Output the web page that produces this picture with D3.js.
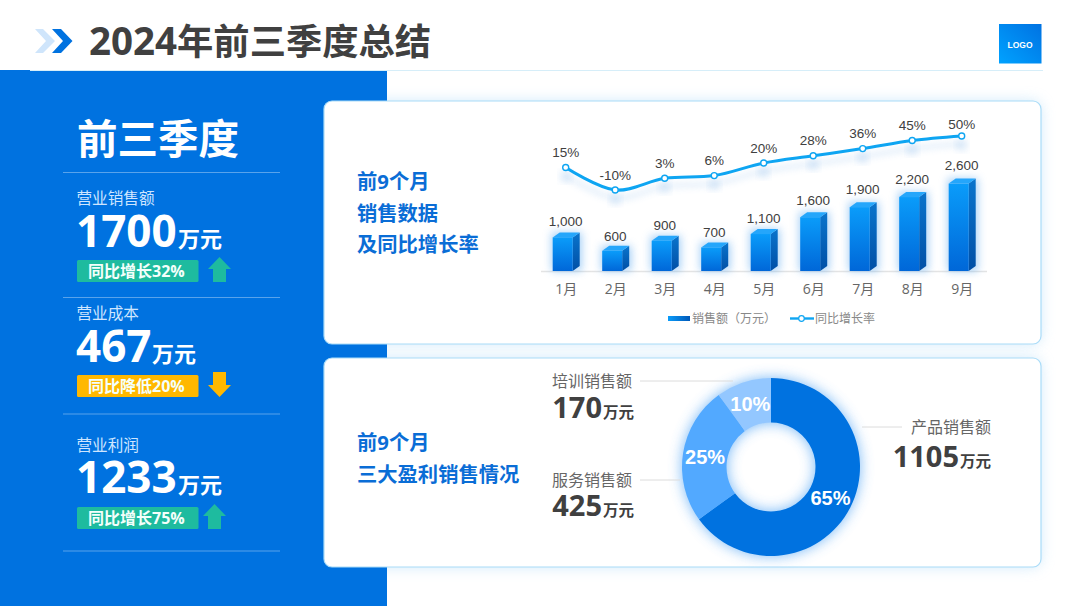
<!DOCTYPE html>
<html>
<head>
<meta charset="utf-8">
<script src="https://cdnjs.cloudflare.com/ajax/libs/d3/7.8.5/d3.min.js"></script>
<style>
html, body { margin: 0; padding: 0; background: #fff; }
svg { display: block; }
text { font-family: "Open Sans", "Noto Sans CJK SC", sans-serif; }
.num { font-family: "Liberation Sans", Arial, sans-serif; }
.tick text { font-family: "Open Sans", "Noto Sans CJK SC", sans-serif; }
</style>
</head>
<body>
<div id="chart"></div>
<script>
// chart values
var months = ["1月", "2月", "3月", "4月", "5月", "6月", "7月", "8月", "9月"];
var sales = [1000, 600, 900, 700, 1100, 1600, 1900, 2200, 2600];
var growth = [15, -10, 3, 6, 20, 28, 36, 45, 50];
var legendNames = ["销售额（万元）", "同比增长率"];

var kpiNames = ["营业销售额", "营业成本", "营业利润"];
var kpiValues = [1700, 467, 1233];
var kpiNotes = ["同比增长32%", "同比降低20%", "同比增长75%"];
var kpiDirs = ["up", "down", "up"];

var shareNames = ["产品销售额", "服务销售额", "培训销售额"];
var shareValues = [1105, 425, 170];
var sharePct = [65, 25, 10];

var blue = "#0072e0";

var svg = d3.select("#chart").append("svg")
    .attr("width", 1080)
    .attr("height", 606);

var defs = svg.append("defs");

function vGrad(id, c1, c2, horizontal) {
    var g = defs.append("linearGradient").attr("id", id)
        .attr("x1", 0).attr("y1", 0)
        .attr("x2", horizontal ? 1 : 0).attr("y2", horizontal ? 0 : 1);
    g.append("stop").attr("offset", 0).attr("stop-color", c1);
    g.append("stop").attr("offset", 1).attr("stop-color", c2);
}
vGrad("barFront", "#0a9cfa", "#0067d8");
vGrad("barSide", "#0a74cc", "#004fa6");
vGrad("legendBar", "#0a9cfa", "#0058b8", true);
vGrad("logoGrad", "#0072e2", "#00a2ff");
defs.select("#logoGrad").attr("x1", 1).attr("y1", 0).attr("x2", 0).attr("y2", 1);

function blurFilter(id, sd) {
    var f = defs.append("filter").attr("id", id)
        .attr("x", "-40%").attr("y", "-40%").attr("width", "180%").attr("height", "180%");
    f.append("feGaussianBlur").attr("stdDeviation", sd);
}
blurFilter("cardGlow", 7);
blurFilter("barGlow", 4);
blurFilter("donutGlow", 7);
defs.append("filter").attr("id", "lineGlow")
    .attr("filterUnits", "userSpaceOnUse")
    .attr("x", 530).attr("y", 110).attr("width", 470).attr("height", 110)
    .append("feGaussianBlur").attr("stdDeviation", 3.5);

// card glow goes under the blue panel
var cards = [{y: 101, h: 243}, {y: 358, h: 209}];
svg.selectAll(".card-glow").data(cards).enter().append("rect")
    .attr("class", "card-glow")
    .attr("x", 324).attr("y", function(d) { return d.y; })
    .attr("width", 717).attr("height", function(d) { return d.h; })
    .attr("rx", 9)
    .attr("fill", "#a8d8f8")
    .attr("opacity", 0.55)
    .attr("filter", "url(#cardGlow)");

svg.append("rect").attr("x", 0).attr("y", 70).attr("width", 387).attr("height", 536).attr("fill", blue);

svg.selectAll(".card").data(cards).enter().append("rect")
    .attr("class", "card")
    .attr("x", 324).attr("y", function(d) { return d.y; })
    .attr("width", 717).attr("height", function(d) { return d.h; })
    .attr("rx", 8)
    .attr("fill", "#fff")
    .attr("stroke", "#aadcf8")
    .attr("stroke-width", 1.2);

// header
svg.append("line").attr("x1", 30).attr("x2", 1043).attr("y1", 70.5).attr("y2", 70.5)
    .attr("stroke", "#d6eef9").attr("stroke-width", 1);
svg.append("path").attr("d", "M35,29H43L55,41L43,53H35L46,41Z").attr("fill", "#cfe5fb");
svg.append("path").attr("d", "M52,29H61L72.5,41L61,53H52L63,41Z").attr("fill", blue);
var title = svg.append("text").attr("x", 89).attr("y", 55)
    .attr("font-weight", 700).attr("fill", "#404040");
title.append("tspan").attr("font-size", 38.5).text("2024");
title.append("tspan").attr("font-size", 36.3).text("年前三季度总结");
svg.append("rect").attr("x", 999).attr("y", 24).attr("width", 42.5).attr("height", 39.5).attr("fill", "url(#logoGrad)");
svg.append("text").attr("class", "num").attr("x", 1020).attr("y", 47.5)
    .attr("text-anchor", "middle").attr("font-size", 8.5).attr("font-weight", 700).attr("fill", "#fff")
    .text("LOGO");

// left panel
var left = svg.append("g");
left.append("text").attr("x", 77).attr("y", 154)
    .attr("font-size", 40.5).attr("font-weight", 700).attr("fill", "#fff").text("前三季度");

[172.5, 297.5, 414, 551].forEach(function(y) {
    left.append("line").attr("x1", 63).attr("x2", 280).attr("y1", y).attr("y2", y)
        .attr("stroke", "#fff").attr("stroke-opacity", 0.35);
});

var kpiNameY = [204, 319, 451];
var kpiValueY = [247, 362, 493];
var kpiUnitX = [178, 152, 178];
var kpiBadgeY = [260, 375, 507];
var kpiArrowX = [219.5, 219.5, 214.5];
var kpiColor = {up: "#1ebb9f", down: "#ffb800"};

kpiNames.forEach(function(name, i) {
    var g = left.append("g");
    g.append("text").attr("x", 76.5).attr("y", kpiNameY[i])
        .attr("font-size", 15.6).attr("fill", "#cfe6ff").text(name);
    g.append("text").attr("x", 76).attr("y", kpiValueY[i])
        .attr("font-size", 44).attr("font-weight", 700).attr("fill", "#fff").text(kpiValues[i]);
    g.append("text").attr("x", kpiUnitX[i]).attr("y", kpiValueY[i])
        .attr("font-size", 22).attr("font-weight", 700).attr("fill", "#fff").text("万元");
    var c = kpiColor[kpiDirs[i]];
    g.append("rect").attr("x", 77).attr("y", kpiBadgeY[i]).attr("width", 121.5).attr("height", 22)
        .attr("rx", 1.5).attr("fill", c);
    g.append("text").attr("x", 88).attr("y", kpiBadgeY[i] + 16.5)
        .attr("font-size", 16).attr("font-weight", 700).attr("fill", "#f4fffb").text(kpiNotes[i]);
    // arrow
    var ax = kpiArrowX[i], t = kpiBadgeY[i] - 3;
    var arrow = kpiDirs[i] == "up"
        ? [[ax, t], [ax + 11.5, t + 12], [ax + 6.5, t + 12], [ax + 6.5, t + 25], [ax - 6.5, t + 25], [ax - 6.5, t + 12], [ax - 11.5, t + 12]]
        : [[ax - 6.5, t], [ax + 6.5, t], [ax + 6.5, t + 13], [ax + 11.5, t + 13], [ax, t + 25], [ax - 11.5, t + 13], [ax - 6.5, t + 13]];
    g.append("path").attr("d", d3.line()(arrow) + "Z").attr("fill", c);
});

// card headings
function heading(lines, ys, size) {
    lines.forEach(function(s, i) {
        svg.append("text").attr("x", 357).attr("y", ys[i])
            .attr("font-size", size).attr("font-weight", 700).attr("fill", "#0a6dd6").text(s);
    });
}
heading(["前9个月", "销售数据", "及同比增长率"], [189, 221, 252], 20.3);
heading(["前9个月", "三大盈利销售情况"], [450, 482], 20.3);

// combo chart
var x = d3.scalePoint().domain(months).range([565.7, 961.7]);
var yBar = d3.scaleLinear().domain([0, 2600]).range([271, 183.6]);
var yLine = d3.scaleLinear().domain([-10, 50]).range([190, 136]);

var frontW = 20, depthX = 7, depthY = 5;

var chart = svg.append("g");

chart.append("line").attr("x1", 541).attr("x2", 987).attr("y1", 271.5).attr("y2", 271.5)
    .attr("stroke", "#e4e4e4").attr("stroke-width", 1.5);

var barData = months.map(function(m, i) { return {m: m, v: sales[i]}; });
var lineData = months.map(function(m, i) { return {m: m, v: growth[i]}; });

function barLeft(d) { return x(d.m) - 13; }

function sidePath(d) {
    var l = barLeft(d) + frontW, t = yBar(d.v), b = yBar(0);
    return d3.line()([[l, t], [l + depthX, t - depthY], [l + depthX, b - depthY], [l, b]]) + "Z";
}
function topPath(d) {
    var l = barLeft(d), t = yBar(d.v);
    return d3.line()([[l, t], [l + depthX, t - depthY], [l + frontW + depthX, t - depthY], [l + frontW, t]]) + "Z";
}

chart.selectAll(".bar-glow").data(barData).enter().append("rect")
    .attr("class", "bar-glow")
    .attr("x", function(d) { return barLeft(d) - 1; })
    .attr("y", function(d) { return yBar(d.v) - depthY; })
    .attr("width", frontW + depthX + 3)
    .attr("height", function(d) { return yBar(0) - yBar(d.v) + depthY; })
    .attr("fill", "#5aa8f0")
    .attr("opacity", 0.55)
    .attr("filter", "url(#barGlow)");

chart.selectAll(".bar-side").data(barData).enter().append("path")
    .attr("class", "bar-side").attr("d", sidePath).attr("fill", "url(#barSide)");
chart.selectAll(".bar-top").data(barData).enter().append("path")
    .attr("class", "bar-top").attr("d", topPath).attr("fill", "#25a6fb");
chart.selectAll(".bar-front").data(barData).enter().append("rect")
    .attr("class", "bar-front")
    .attr("x", barLeft)
    .attr("y", function(d) { return yBar(d.v); })
    .attr("width", frontW)
    .attr("height", function(d) { return yBar(0) - yBar(d.v); })
    .attr("fill", "url(#barFront)");

var fmt = d3.format(",");
chart.selectAll(".bar-label").data(barData).enter().append("text")
    .attr("class", "bar-label num")
    .attr("x", function(d) { return x(d.m); })
    .attr("y", function(d) { return yBar(d.v) - 9 - d.v / 520; })
    .attr("text-anchor", "middle")
    .attr("font-size", 13.5)
    .attr("fill", "#404040")
    .text(function(d) { return fmt(d.v); });

var line = d3.line()
    .x(function(d) { return x(d.m); })
    .y(function(d) { return yLine(d.v); })
    .curve(d3.curveCatmullRom.alpha(0.5));

// blurred shadow under the line
chart.append("path").datum(lineData)
    .attr("d", line)
    .attr("transform", "translate(0,8)")
    .attr("fill", "none")
    .attr("stroke", "#9cc4ee")
    .attr("stroke-width", 3)
    .attr("opacity", 0.45)
    .attr("filter", "url(#lineGlow)");
chart.selectAll(".dot-shadow").data(lineData).enter().append("circle")
    .attr("cx", function(d) { return x(d.m); })
    .attr("cy", function(d) { return yLine(d.v) + 9; })
    .attr("r", 4.5)
    .attr("fill", "#9cc4ee")
    .attr("opacity", 0.6)
    .attr("filter", "url(#barGlow)");

chart.append("path").datum(lineData)
    .attr("d", line)
    .attr("fill", "none")
    .attr("stroke", "#0ea5f2")
    .attr("stroke-width", 3);

chart.selectAll(".dot").data(lineData).enter().append("circle")
    .attr("class", "dot")
    .attr("cx", function(d) { return x(d.m); })
    .attr("cy", function(d) { return yLine(d.v); })
    .attr("r", 3)
    .attr("fill", "#fff")
    .attr("stroke", "#0ea5f2")
    .attr("stroke-width", 1.4);

// the last label sits closer to its point in the reference
chart.selectAll(".line-label").data(lineData).enter().append("text")
    .attr("class", "line-label num")
    .attr("x", function(d) { return x(d.m); })
    .attr("y", function(d) { return yLine(d.v) - (d.v == 50 ? 7.5 : 10.5); })
    .attr("text-anchor", "middle")
    .attr("font-size", 13.5)
    .attr("fill", "#404040")
    .text(function(d) { return d.v + "%"; });

var xAxis = d3.axisBottom(x).tickSize(0).tickPadding(0);
var axisG = chart.append("g").attr("transform", "translate(0,284.5)").call(xAxis);
axisG.select(".domain").remove();
axisG.selectAll("text").attr("font-size", 14).attr("fill", "#666");

// legend
chart.append("rect").attr("x", 668).attr("y", 316).attr("width", 22).attr("height", 5).attr("fill", "url(#legendBar)");
chart.append("text").attr("x", 692).attr("y", 323).attr("font-size", 12).attr("fill", "#888").text(legendNames[0]);
chart.append("line").attr("x1", 790).attr("x2", 814).attr("y1", 318.5).attr("y2", 318.5)
    .attr("stroke", "#0ea5f2").attr("stroke-width", 2.4);
chart.append("circle").attr("cx", 801.5).attr("cy", 318.5).attr("r", 2.8)
    .attr("fill", "#fff").attr("stroke", "#0ea5f2").attr("stroke-width", 1.2);
chart.append("text").attr("x", 815).attr("y", 323).attr("font-size", 12).attr("fill", "#888").text(legendNames[1]);

// donut
var cx = 771, cy = 467, rOuter = 89, rInner = 44.5;
var shareColor = d3.scaleOrdinal().domain(shareNames).range([blue, "#52a9ff", "#93c7ff"]);
var pie = d3.pie().sort(null).value(function(d) { return d.v; });
var arc = d3.arc().innerRadius(rInner).outerRadius(rOuter);
var shareData = shareNames.map(function(n, i) { return {n: n, v: shareValues[i], p: sharePct[i]}; });

var donut = svg.append("g").attr("transform", "translate(" + cx + "," + cy + ")");
donut.append("path")
    .attr("d", arc({startAngle: 0, endAngle: 2 * Math.PI}))
    .attr("fill", "#4aa0f5")
    .attr("opacity", 0.75)
    .attr("filter", "url(#donutGlow)");
donut.selectAll(".slice").data(pie(shareData)).enter().append("path")
    .attr("class", "slice")
    .attr("d", arc)
    .attr("fill", function(d) { return shareColor(d.data.n); });
donut.selectAll(".slice-label").data(pie(shareData)).enter().append("text")
    .attr("class", "slice-label num")
    .attr("transform", function(d) { return "translate(" + arc.centroid(d) + ")"; })
    .attr("text-anchor", "middle")
    .attr("dy", "0.36em")
    .attr("font-size", 20)
    .attr("font-weight", 700)
    .attr("fill", "#fff")
    .text(function(d) { return d.data.p + "%"; });

// donut callouts, same order as shareNames
var leaders = [[862, 902, 427], [640, 680, 480], [640, 733, 381]];
var nameY = [433, 486, 387];
var valueY = [467, 516, 417.5];
var rightEdge = [991, 634, 634];

shareNames.forEach(function(n, i) {
    svg.append("line").attr("x1", leaders[i][0]).attr("x2", leaders[i][1])
        .attr("y1", leaders[i][2]).attr("y2", leaders[i][2])
        .attr("stroke", "#dcdcdc");
    var nameX = i == 0 ? 991 : 552;
    svg.append("text").attr("x", nameX).attr("y", nameY[i])
        .attr("text-anchor", i == 0 ? "end" : "start")
        .attr("font-size", 16).attr("fill", "#666").text(n);
    var t = svg.append("text").attr("x", rightEdge[i]).attr("y", valueY[i])
        .attr("text-anchor", "end").attr("font-weight", 700).attr("fill", "#404040");
    t.append("tspan").attr("font-size", 29).text(shareValues[i]);
    t.append("tspan").attr("font-size", 15.5).attr("dx", 1).text("万元");
});
</script>
</body>
</html>
